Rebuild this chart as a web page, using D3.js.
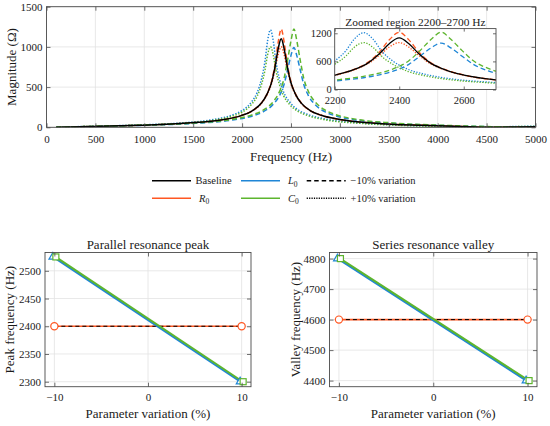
<!DOCTYPE html>
<html>
<head>
<meta charset="utf-8">
<script src="https://cdn.jsdelivr.net/npm/d3@7"></script>
<style>
  body { margin: 0; background: #fff; }
  text { font-family: "Liberation Serif", "DejaVu Serif", serif; fill: #1a1a1a; }
</style>
</head>
<body>
<div class="chart"></div>
<script>
// ---- data ----
// magnitude curves: [frequency Hz, |Z| ohm]
var baseline = [[100,2],[480,11],[960,26],[1440,52],[1800,94],[1990,145],[2100,202],[2200,305],[2255,412],[2305,574],[2340,773],[2370,983],[2400,1100],[2430,976],[2460,768],[2495,573],[2545,413],[2605,301],[2700,205],[2810,149],[3000,96],[3360,51],[3840,24],[4320,7],[4600,1],[4800,4],[5000,8]];
var r0Minus = [[100,2],[480,11],[960,26],[1440,52],[1800,94],[1990,145],[2100,203],[2200,307],[2255,417],[2305,590],[2340,811],[2370,1066],[2400,1221],[2430,1059],[2460,807],[2495,589],[2545,420],[2605,303],[2700,205],[2810,149],[3000,96],[3360,51],[3840,24],[4320,7],[4600,1],[4800,4],[5000,8]];
var r0Plus = [[100,2],[480,11],[960,26],[1440,52],[1800,94],[1990,145],[2100,201],[2200,302],[2255,406],[2305,559],[2340,736],[2370,910],[2400,1001],[2430,904],[2460,731],[2495,557],[2545,407],[2605,298],[2700,205],[2810,149],[3000,96],[3360,51],[3840,24],[4320,7],[4600,1],[4800,4],[5000,8]];
var l0Minus = [[100,2],[505,11],[1010,25],[1520,49],[1900,90],[2100,138],[2215,192],[2320,288],[2380,388],[2430,537],[2465,715],[2500,895],[2530,992],[2560,888],[2595,710],[2630,536],[2680,389],[2745,284],[2845,195],[2960,141],[3160,91],[3540,49],[4050,22],[4555,7],[4850,1],[5000,3]];
var l0Plus = [[100,3],[460,12],[915,28],[1375,54],[1720,99],[1900,153],[2005,212],[2100,321],[2155,435],[2200,610],[2235,830],[2260,1071],[2290,1212],[2320,1065],[2345,826],[2380,609],[2425,437],[2485,317],[2575,215],[2680,156],[2860,101],[3205,54],[3665,25],[4120,8],[4390,1],[4580,5],[5000,14]];
var c0Minus = [[100,2],[505,12],[1010,28],[1520,54],[1900,99],[2100,153],[2215,213],[2320,322],[2380,437],[2430,614],[2465,834],[2500,1077],[2530,1224],[2560,1072],[2595,830],[2630,612],[2680,439],[2745,318],[2845,217],[2960,157],[3160,101],[3540,54],[4050,25],[4555,8],[4850,1],[5000,3]];
var c0Plus = [[100,2],[460,11],[915,25],[1375,49],[1720,90],[1900,139],[2005,192],[2100,289],[2155,389],[2200,539],[2235,717],[2260,898],[2290,1001],[2320,892],[2345,713],[2380,538],[2425,391],[2485,285],[2575,196],[2680,142],[2860,91],[3205,49],[3665,22],[4120,7],[4390,1],[4580,4],[5000,12]];

var freqTicks = [0, 500, 1000, 1500, 2000, 2500, 3000, 3500, 4000, 4500, 5000];
var magTicks = [0, 500, 1000, 1500];
var insetFreqTicks = [2200, 2400, 2600];
var insetMagTicks = [0, 600, 1200];

// sensitivity plots
var variation = [-10, 10];
var peakR = [2400, 2400];
var peakL = [2525, 2300];
var peakC = [2525, 2300];
var peakBase = 2400;
var valleyR = [4600, 4600];
var valleyL = [4800, 4400];
var valleyC = [4800, 4400];
var valleyBase = 4600;
var variationTicks = [-10, 0, 10];
var peakTicks = [2300, 2350, 2400, 2450, 2500];
var valleyTicks = [4400, 4500, 4600, 4700, 4800];

// ---- styling ----
var svgWidth = 550;
var svgHeight = 426;
var red = "#FF5722", blue = "#1F86D6", green = "#5DB52E";
var gridColor = "#e2e2e2", frameColor = "#4a4a4a";
var dashed = "5,3", dotted = "1.4,1.6";

var svg = d3.select(".chart").append("svg")
    .attr("width", svgWidth)
    .attr("height", svgHeight);

var mainSeries = [
    { data: r0Minus, color: red, dash: dashed },
    { data: r0Plus, color: red, dash: dotted },
    { data: l0Minus, color: blue, dash: dashed },
    { data: l0Plus, color: blue, dash: dotted },
    { data: c0Minus, color: green, dash: dashed },
    { data: c0Plus, color: green, dash: dotted },
    { data: baseline, color: "#000", dash: null }
];

function fmtMinus(d) {
    return d < 0 ? "\u2212" + (-d) : String(d);
}

// grid lines below the data
function drawGrid(g, x, y, xTicks, yTicks) {
    var grid = g.append("g");
    grid.selectAll(".gx").data(xTicks).enter().append("line")
        .attr("x1", d => x(d)).attr("x2", d => x(d))
        .attr("y1", y.range()[0]).attr("y2", y.range()[1])
        .attr("stroke", gridColor).attr("stroke-width", 0.8);
    grid.selectAll(".gy").data(yTicks).enter().append("line")
        .attr("x1", x.range()[0]).attr("x2", x.range()[1])
        .attr("y1", d => y(d)).attr("y2", d => y(d))
        .attr("stroke", gridColor).attr("stroke-width", 0.8);
}

// box with inward ticks on all four sides
function drawFrame(g, x, y, xTicks, yTicks, opt) {
    var x0 = x.range()[0], x1 = x.range()[1];
    var y0 = y.range()[0], y1 = y.range()[1];
    var tl = opt.tick || 4;

    var bottom = g.append("g").attr("transform", `translate(0,${y0})`)
        .call(d3.axisBottom(x).tickValues(xTicks).tickSizeInner(-tl).tickSizeOuter(0)
            .tickPadding(opt.padX).tickFormat(opt.fmtX || fmtMinus));
    var left = g.append("g").attr("transform", `translate(${x0},0)`)
        .call(d3.axisLeft(y).tickValues(yTicks).tickSizeInner(-tl).tickSizeOuter(0)
            .tickPadding(opt.padY).tickFormat(d => String(d)));
    var top = g.append("g").attr("transform", `translate(0,${y1})`)
        .call(d3.axisTop(x).tickValues(xTicks).tickSizeInner(-tl).tickSizeOuter(0).tickFormat(""));
    var right = g.append("g").attr("transform", `translate(${x1},0)`)
        .call(d3.axisRight(y).tickValues(yTicks).tickSizeInner(-tl).tickSizeOuter(0).tickFormat(""));

    [bottom, left, top, right].forEach(function(a) {
        a.select(".domain").remove();
        a.selectAll(".tick line").attr("stroke", frameColor).attr("stroke-width", 0.8);
        a.selectAll("text")
            .style("font-family", "'Liberation Serif', serif")
            .style("font-size", opt.fontSize + "px")
            .attr("fill", "#1a1a1a");
    });

    g.append("rect")
        .attr("x", x0).attr("y", y1)
        .attr("width", x1 - x0).attr("height", y0 - y1)
        .attr("fill", "none").attr("stroke", frameColor).attr("stroke-width", 0.9);
}

// ===== top panel: magnitude vs frequency =====
var xMain = d3.scaleLinear().domain([0, 5000]).range([46.5, 535.5]);
var yMain = d3.scaleLinear().domain([0, 1500]).range([127.3, 6.7]);

var mainGroup = svg.append("g");
drawGrid(mainGroup, xMain, yMain, freqTicks, magTicks);

svg.append("defs").append("clipPath").attr("id", "clipMain")
    .append("rect").attr("x", 46.5).attr("y", 6.7).attr("width", 489).attr("height", 120.6);

var mainLine = d3.line()
    .x(d => xMain(d[0]))
    .y(d => yMain(d[1]))
    .curve(d3.curveMonotoneX);

mainGroup.append("g").attr("clip-path", "url(#clipMain)")
    .selectAll("path").data(mainSeries).enter().append("path")
    .attr("d", d => mainLine(d.data))
    .attr("fill", "none")
    .attr("stroke", d => d.color)
    .attr("stroke-width", 1.5)
    .attr("stroke-dasharray", d => d.dash);

drawFrame(mainGroup, xMain, yMain, freqTicks, magTicks, { padX: 8, padY: 4, fontSize: 11 });

mainGroup.append("text")
    .attr("x", 291).attr("y", 160.5)
    .attr("text-anchor", "middle")
    .style("font-size", "13px")
    .text("Frequency (Hz)");

mainGroup.append("text")
    .attr("transform", "translate(16,67) rotate(-90)")
    .attr("text-anchor", "middle")
    .style("font-size", "13px")
    .text("Magnitude (\u03A9)");

// ---- inset: zoom on 2200-2700 Hz ----
var xIn = d3.scaleLinear().domain([2200, 2700]).range([334.7, 496]);
var yIn = d3.scaleLinear().domain([0, 1300]).range([89.5, 28.6]);

var inset = svg.append("g");
inset.append("rect")
    .attr("x", 334.7).attr("y", 28.6)
    .attr("width", 496 - 334.7).attr("height", 89.5 - 28.6)
    .attr("fill", "#fff");

svg.select("defs").append("clipPath").attr("id", "clipInset")
    .append("rect").attr("x", 334.7).attr("y", 28.6)
    .attr("width", 496 - 334.7).attr("height", 89.5 - 28.6);

var insetLine = d3.line()
    .x(d => xIn(d[0]))
    .y(d => yIn(d[1]))
    .curve(d3.curveMonotoneX);

inset.append("g").attr("clip-path", "url(#clipInset)")
    .selectAll("path").data(mainSeries).enter().append("path")
    .attr("d", d => insetLine(d.data))
    .attr("fill", "none")
    .attr("stroke", d => d.color)
    .attr("stroke-width", 1.3)
    .attr("stroke-dasharray", d => d.dash ? (d.dash === dashed ? "5,3" : "1.3,1.5") : null);

drawFrame(inset, xIn, yIn, insetFreqTicks, insetMagTicks, { padX: 7, padY: 3, fontSize: 10.5, tick: 3 });

inset.append("text")
    .attr("x", 415.4).attr("y", 25.5)
    .attr("text-anchor", "middle")
    .style("font-size", "11.4px")
    .text("Zoomed region 2200\u20132700 Hz");

// ---- legend ----
var legendItems = [
    { label: "Baseline", sub: null, color: "#000", dash: null, x: 152, tx: 195.5, y: 180.7 },
    { label: "R", sub: "0", color: red, dash: null, x: 152, tx: 199, y: 198.3 },
    { label: "L", sub: "0", color: blue, dash: null, x: 241, tx: 288, y: 180.7 },
    { label: "C", sub: "0", color: green, dash: null, x: 241, tx: 288, y: 198.3 },
    { label: "\u221210% variation", sub: null, color: "#000", dash: "4.5,3", x: 306.7, tx: 350.5, y: 180.7 },
    { label: "+10% variation", sub: null, color: "#000", dash: "1.2,1.2", x: 306.7, tx: 350.5, y: 198.3 }
];

var legend = svg.append("g");
legendItems.forEach(function(item) {
    legend.append("line")
        .attr("x1", item.x).attr("x2", item.x + 39)
        .attr("y1", item.y).attr("y2", item.y)
        .attr("stroke", item.color)
        .attr("stroke-width", 1.5)
        .attr("stroke-dasharray", item.dash);
    var t = legend.append("text")
        .attr("x", item.tx).attr("y", item.y + 3.6)
        .style("font-size", "10.5px");
    if (item.sub) {
        t.append("tspan").style("font-style", "italic").text(item.label);
        t.append("tspan").attr("dy", 2.5).style("font-size", "7.5px").text(item.sub);
    } else {
        t.text(item.label);
    }
});

// ===== bottom panels: resonance shift vs parameter variation =====
function sensitivityPanel(cfg) {
    var x = d3.scaleLinear().domain([-11, 11]).range([cfg.left, cfg.right]);
    var y = d3.scaleLinear().domain(cfg.yDomain).range([386.7, 252.5]);
    var g = svg.append("g");

    drawGrid(g, x, y, variationTicks, cfg.yTicks);

    var rPts = variation.map((v, i) => [v, cfg.r[i]]);
    var lPts = variation.map((v, i) => [v, cfg.l[i]]);
    var cPts = variation.map((v, i) => [v, cfg.c[i]]);

    var line = function(dx) {
        return d3.line().x(d => x(d[0]) + dx).y(d => y(d[1]));
    };

    g.append("path").attr("d", line(0)(rPts))
        .attr("fill", "none").attr("stroke", red).attr("stroke-width", 1.6);
    g.append("path").attr("d", line(0)(variation.map(v => [v, cfg.base])))
        .attr("fill", "none").attr("stroke", "#000").attr("stroke-width", 1)
        .attr("stroke-dasharray", "4,3");
    g.append("path").attr("d", line(-1.2)(lPts))
        .attr("fill", "none").attr("stroke", blue).attr("stroke-width", 2);
    g.append("path").attr("d", line(1.2)(cPts))
        .attr("fill", "none").attr("stroke", green).attr("stroke-width", 2);

    // markers
    g.selectAll(".mr").data(rPts).enter().append("circle")
        .attr("cx", d => x(d[0])).attr("cy", d => y(d[1])).attr("r", 3.6)
        .attr("fill", "#fff").attr("stroke", red).attr("stroke-width", 1.2);
    g.selectAll(".ml").data(lPts).enter().append("path")
        .attr("transform", d => `translate(${x(d[0]) - 1.5},${y(d[1])})`)
        .attr("d", d3.symbol().type(d3.symbolTriangle).size(26))
        .attr("fill", "#fff").attr("stroke", blue).attr("stroke-width", 1.2);
    g.selectAll(".mc").data(cPts).enter().append("rect")
        .attr("x", d => x(d[0]) + 1.5 - 3).attr("y", d => y(d[1]) - 3)
        .attr("width", 6).attr("height", 6)
        .attr("fill", "#fff").attr("stroke", green).attr("stroke-width", 1.2);

    drawFrame(g, x, y, variationTicks, cfg.yTicks, { padX: 7, padY: 4, fontSize: 11, fmtX: fmtMinus });

    var cx = (cfg.left + cfg.right) / 2;
    g.append("text")
        .attr("x", cx).attr("y", 249)
        .attr("text-anchor", "middle")
        .style("font-size", "13px")
        .text(cfg.title);
    g.append("text")
        .attr("x", cx).attr("y", 417.5)
        .attr("text-anchor", "middle")
        .style("font-size", "13px")
        .text("Parameter variation (%)");
    g.append("text")
        .attr("transform", `translate(${cfg.yLabelX},319.6) rotate(-90)`)
        .attr("text-anchor", "middle")
        .style("font-size", "13px")
        .text(cfg.yLabel);
}

sensitivityPanel({
    left: 45, right: 251,
    yDomain: [2291, 2533], yTicks: peakTicks,
    r: peakR, l: peakL, c: peakC, base: peakBase,
    title: "Parallel resonance peak",
    yLabel: "Peak frequency (Hz)", yLabelX: 14
});

sensitivityPanel({
    left: 329.5, right: 537,
    yDomain: [4380, 4820], yTicks: valleyTicks,
    r: valleyR, l: valleyL, c: valleyC, base: valleyBase,
    title: "Series resonance valley",
    yLabel: "Valley frequency (Hz)", yLabelX: 299.5
});
</script>
</body>
</html>
